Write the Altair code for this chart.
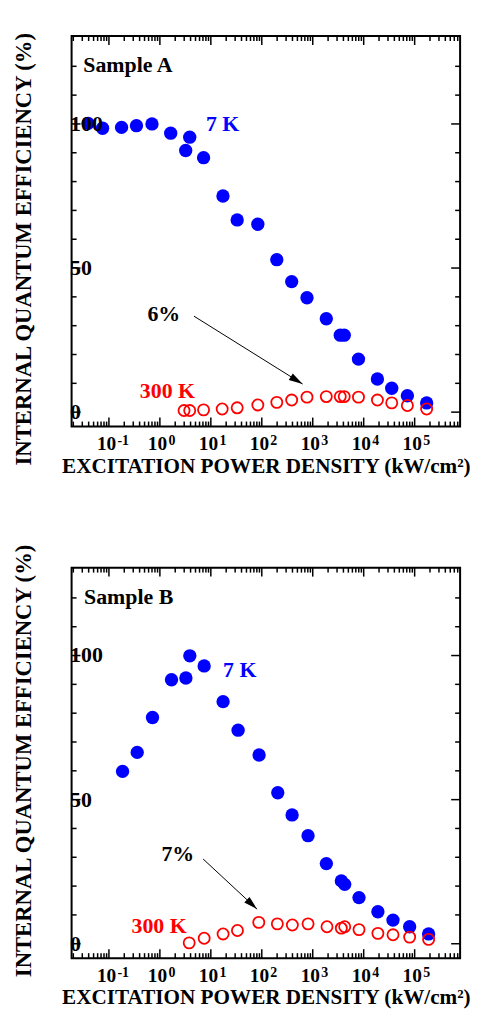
import math
import altair as alt
import pandas as pd

FONT = "Liberation Serif"
W, H = 391, 393
XMIN, XMAX = 0.0185, 7.8e5
YMIN, YMAX = -5.0, 130.5

# ---------------- Sample A ----------------
a7_x = [0.039, 0.075, 0.177, 0.347, 0.70, 1.63, 3.85, 3.21, 7.2, 17.3, 32.9, 83.6, 197, 386, 771,
        1845, 3470, 4150, 7900, 18600, 35500, 72000, 172000]
a7_y = [100.2, 98.5, 98.8, 99.4, 100.0, 96.8, 95.4, 90.8, 88.3, 75.0, 66.7, 65.2, 52.9, 45.3, 39.7,
        32.4, 26.7, 26.7, 18.4, 11.5, 8.3, 5.7, 3.2]
a300_x = [2.98, 3.85, 7.2, 16.7, 32.9, 83.6, 197, 386, 771, 1845, 3470, 4150, 7900, 18600, 35500,
          72000, 172000]
a300_y = [0.55, 0.55, 0.8, 1.1, 1.5, 2.5, 3.4, 4.2, 5.2, 5.4, 5.4, 5.4, 5.2, 4.2, 3.2, 2.3, 1.1]
a_text = ["Sample A", "7 K", "6%", "300 K"]
a_text_x = [0.0314, 8.0, 0.569, 0.404]
a_text_y = [120.4, 99.9, 33.9, 7.4]
a_text_c = ["black", "#0000ff", "black", "#ff0000"]
a_arrow_x = [4.67, 632]
a_arrow_y = [33.3, 9.76]

# ---------------- Sample B ----------------
b7_x = [0.185, 0.359, 0.716, 1.69, 3.24, 3.87, 7.4, 17.4, 34.3, 88.5, 206, 393, 809, 1850, 3640,
        4240, 8090, 19000, 37600, 79800, 188000]
b7_y = [59.8, 66.4, 78.5, 91.6, 92.2, 99.9, 96.4, 84.0, 74.1, 65.5, 52.4, 44.7, 37.5, 27.8, 21.8,
        20.6, 16.0, 11.1, 8.2, 5.9, 3.4]
b300_x = [3.76, 7.4, 17.4, 33.3, 87.3, 202, 398, 809, 1905, 3640, 4240, 8090, 19000, 37600, 79800,
          188000]
b300_y = [0.3, 1.9, 3.4, 4.6, 7.4, 6.9, 6.5, 6.9, 5.9, 5.4, 5.9, 4.9, 3.6, 3.1, 2.3, 1.5]
b_text = ["Sample B", "7 K", "7%", "300 K"]
b_text_x = [0.0324, 17.4, 1.07, 0.277]
b_text_y = [120.4, 94.9, 31.0, 6.3]
b_text_c = ["black", "#0000ff", "black", "#ff0000"]
b_arrow_x = [7.06, 80.9]
b_arrow_y = [29.4, 12.0]

# ---------------- axes ----------------
x_major = [0.1, 1, 10, 100, 1e3, 1e4, 1e5]
x_exp = ["-1", "0", "1", "2", "3", "4", "5"]
x_minor = [m * 10.0 ** d for d in range(-2, 6) for m in range(2, 10)]
x_minor = [v for v in x_minor if XMIN < v < XMAX]
y_major = [0, 50, 100]
y_labels = ["0", "50", "100"]
y_minor = [10, 20, 30, 40, 60, 70, 80, 90, 110, 120]

Y_TITLE = "INTERNAL QUANTUM EFFICIENCY (%)"
X_TITLE = "EXCITATION POWER DENSITY (kW/cm\u00b2)"

xs = alt.Scale(type="log", domain=[XMIN, XMAX], nice=False)
ys = alt.Scale(domain=[YMIN, YMAX], nice=False, zero=False)

X_AXIS = alt.Axis(title=X_TITLE, labels=False, ticks=False, domain=False, grid=False,
                  titleFont=FONT, titleFontSize=21.3, titleFontWeight="bold",
                  titleColor="black", titlePadding=29)


def y_axis(title_y):
    return alt.Axis(title=Y_TITLE, labels=False, ticks=False, domain=False, grid=False,
                    titleFont=FONT, titleFontSize=22.8, titleFontWeight="bold",
                    titleColor="black", titlePadding=36, titleY=title_y)


ARROW_PATH = "M0,0 L-0.55,2 L0.55,2 Z"


def panel(p7x, p7y, p3x, p3y, tt, tx, ty, tc, ax, ay, title_y):
    YA = y_axis(title_y)

    def X(f="x"):
        return alt.X(f, type="quantitative", scale=xs, axis=X_AXIS)

    def Y(f="y"):
        return alt.Y(f, type="quantitative", scale=ys, axis=YA)

    d7 = pd.DataFrame({"x": p7x, "y": p7y})
    d3 = pd.DataFrame({"x": p3x, "y": p3y})
    frame = alt.Chart(pd.DataFrame({"k": [0]})).mark_rect(
        fill=None, stroke="black", strokeWidth=2).encode(
        x=alt.value(0), x2=alt.value(W), y=alt.value(0), y2=alt.value(H))
    filled = alt.Chart(d7).mark_point(filled=True, shape="circle", size=180, color="#0000ff",
                                      opacity=1).encode(x=X(), y=Y())
    opened = alt.Chart(d3).mark_point(filled=False, shape="circle", size=125, color="#ff0000",
                                      strokeWidth=1.8, opacity=1).encode(x=X(), y=Y())

    dt = pd.DataFrame({"x": tx, "y": ty, "t": tt, "c": tc})
    texts = alt.Chart(dt).mark_text(align="left", baseline="middle", font=FONT, fontSize=22,
                                    fontWeight="bold").encode(
        x=X(), y=Y(), text="t:N", color=alt.Color("c:N", scale=None))

    da = pd.DataFrame({"x": ax, "y": ay, "o": [0, 1]})
    line = alt.Chart(da).mark_line(color="black", strokeWidth=1).encode(x=X(), y=Y(), order="o:Q")
    lx0, lx1 = math.log10(ax[0]), math.log10(ax[1])
    px_dx = (lx1 - lx0) * W / (math.log10(XMAX) - math.log10(XMIN))
    px_dy = -(ay[1] - ay[0]) * H / (YMAX - YMIN)
    ang = math.degrees(math.atan2(px_dx, -px_dy)) % 360
    head = alt.Chart(pd.DataFrame({"x": [ax[1]], "y": [ay[1]]})).mark_point(
        shape=ARROW_PATH, size=196, filled=True, color="black", opacity=1, angle=ang).encode(x=X(), y=Y())

    # inward ticks
    dxmaj = pd.DataFrame({"x": x_major, "e": x_exp})
    dxmin = pd.DataFrame({"x": x_minor})
    dymaj = pd.DataFrame({"y": y_major, "t": y_labels})
    dymin = pd.DataFrame({"y": y_minor})
    tk = dict(color="black", strokeWidth=1.5)
    MAJ, MIN = 9, 5
    ticks = [
        alt.Chart(dxmaj).mark_rule(**tk).encode(x=X(), y=alt.value(H), y2=alt.value(H - MAJ)),
        alt.Chart(dxmaj).mark_rule(**tk).encode(x=X(), y=alt.value(0), y2=alt.value(MAJ)),
        alt.Chart(dxmin).mark_rule(**tk).encode(x=X(), y=alt.value(H), y2=alt.value(H - MIN)),
        alt.Chart(dxmin).mark_rule(**tk).encode(x=X(), y=alt.value(0), y2=alt.value(MIN)),
        alt.Chart(dymaj).mark_rule(**tk).encode(y=Y(), x=alt.value(0), x2=alt.value(MAJ)),
        alt.Chart(dymaj).mark_rule(**tk).encode(y=Y(), x=alt.value(W), x2=alt.value(W - MAJ)),
        alt.Chart(dymin).mark_rule(**tk).encode(y=Y(), x=alt.value(0), x2=alt.value(MIN)),
        alt.Chart(dymin).mark_rule(**tk).encode(y=Y(), x=alt.value(W), x2=alt.value(W - MIN)),
    ]
    ylab = alt.Chart(dymaj).mark_text(align="left", baseline="middle", font=FONT, fontSize=22,
                                      fontWeight="bold", color="black").encode(
        y=Y(), x=alt.value(-1.5), text="t:N")
    xlab = alt.Chart(dxmaj).mark_text(align="center", baseline="alphabetic", font=FONT, fontSize=19.5,
                                      fontWeight="bold", color="black", dx=-2.4).encode(
        x=X(), y=alt.value(H + 24), text=alt.value("10"))
    xsup = alt.Chart(dxmaj).mark_text(align="left", baseline="alphabetic", font=FONT, fontSize=14,
                                      fontWeight="bold", color="black", dx=8.6).encode(
        x=X(), y=alt.value(H + 18.5), text="e:N")

    return alt.layer(frame, filled, opened, texts, line, head, *ticks, ylab, xlab, xsup).properties(
        width=W, height=H)


top = panel(a7_x, a7_y, a300_x, a300_y, a_text, a_text_x, a_text_y, a_text_c, a_arrow_x, a_arrow_y, 214)
bottom = panel(b7_x, b7_y, b300_x, b300_y, b_text, b_text_x, b_text_y, b_text_c, b_arrow_x, b_arrow_y, 194)

chart = alt.vconcat(top, bottom, spacing=142, bounds="flush").properties(
    padding={"left": 5, "top": 20, "right": 5, "bottom": 5}, background="white"
).configure_view(stroke=None)

chart.save("out.html", embed_options={"renderer": "svg", "actions": False})
